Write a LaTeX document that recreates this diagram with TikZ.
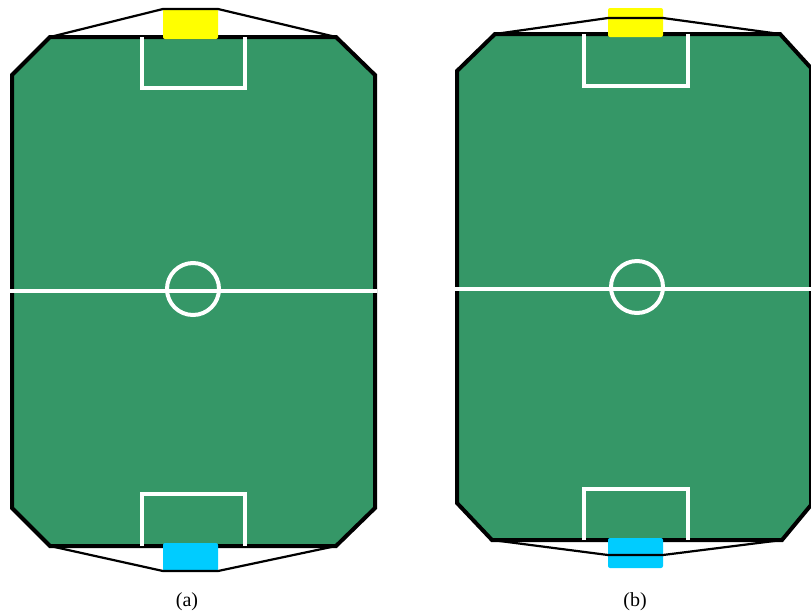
\documentclass[tikz,border=0pt]{standalone}
\usepackage{fontspec}
\setmainfont{Liberation Serif}
\definecolor{pitchgreen}{RGB}{53,151,103}
\definecolor{goalyellow}{RGB}{255,255,0}
\definecolor{goalblue}{RGB}{0,204,255}

\begin{document}
\begin{tikzpicture}[
    x=1pt, y=-1pt,
    font=\fontsize{20}{24}\selectfont,
    field/.style={draw=black, line width=4pt, fill=pitchgreen, line join=miter},
    markline/.style={draw=white, line width=4pt},
    goalbox/.style={rounded corners=2pt},
    netline/.style={draw=black, line width=2.2pt},
    caption/.style={inner sep=0pt, anchor=base}
]
\useasboundingbox (0,0) rectangle (811,614);

% field (a)
\draw[field] (50,37) -- (336,37) -- (375,75) -- (375,508) -- (336,546)
    -- (50,546) -- (12,508) -- (12,75) -- cycle;
\draw[markline] (10,291) -- (377,291);
\draw[markline] (193,289) circle (26);
\draw[markline] (142,37) -- (142,88) -- (245,88) -- (245,37);
\draw[markline] (142,546) -- (142,494) -- (245,494) -- (245,546);
\fill[goalyellow, goalbox] (163,9) rectangle (218,39);
\fill[goalblue, goalbox] (163,543) rectangle (218,571);
\draw[netline] (50,37) -- (163,9) -- (218,9) -- (336,37);
\draw[netline] (50,546) -- (163,571) -- (218,571) -- (336,546);
\node[caption] (capa) at (187,606) {(a)};

% field (b)
\draw[field] (495,34) -- (780,34) -- (811,68) -- (811,505) -- (782,540)
    -- (492,540) -- (457,503) -- (457,71) -- cycle;
\draw[markline] (455,289) -- (813,289);
\draw[markline] (637,287) circle (26);
\draw[markline] (584,34) -- (584,86) -- (688,86) -- (688,34);
\draw[markline] (584,540) -- (584,489) -- (688,489) -- (688,540);
\fill[goalyellow, goalbox] (608,8) rectangle (663,37);
\fill[goalblue, goalbox] (608,538) rectangle (663,568);
\draw[netline] (495,34) -- (608,18) -- (663,18) -- (780,34);
\draw[netline] (492,540) -- (608,555) -- (663,555) -- (782,540);
\node[caption] (capb) at (635,606) {(b)};
\end{tikzpicture}
\end{document}
